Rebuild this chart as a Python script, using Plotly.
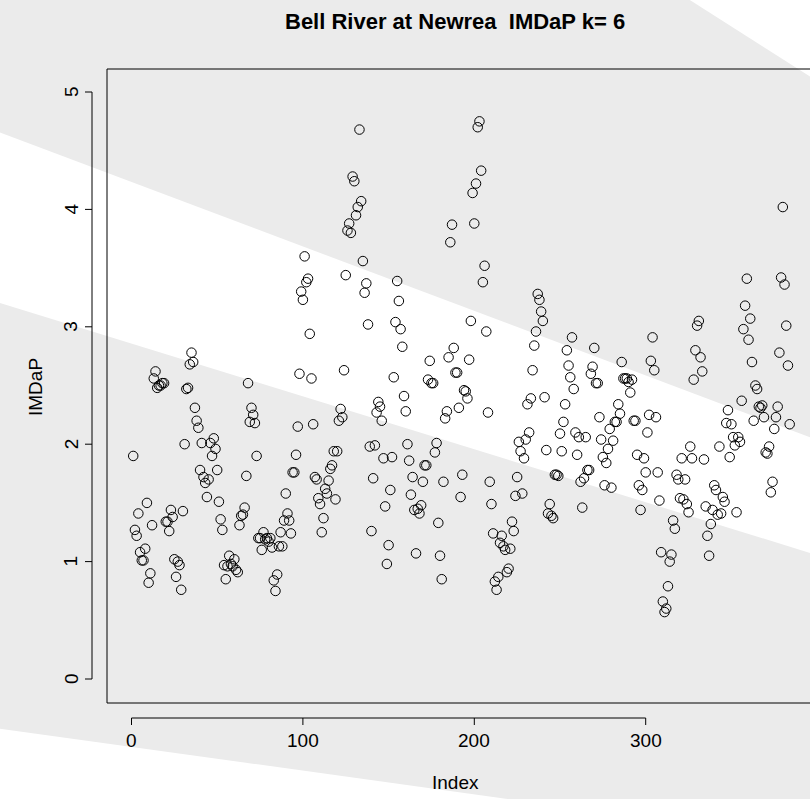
import plotly.graph_objects as go

# ---- data ----
imdap = [
    1.90,1.27,1.22,1.41,1.08,1.01,1.01,1.11,1.50,0.82,
    0.90,1.31,2.56,2.62,2.48,2.50,2.50,2.52,2.52,1.34,1.34,
    1.26,1.44,1.38,1.02,0.87,1.00,0.97,0.76,1.43,2.00,
    2.47,2.48,2.68,2.78,2.70,2.31,2.20,2.14,1.78,2.01,
    1.72,1.67,1.55,1.70,2.01,1.90,2.05,1.96,1.78,1.51,
    1.36,1.27,0.97,0.85,0.96,1.05,0.98,0.96,1.02,0.93,0.91,
    1.31,1.39,1.40,1.46,1.73,2.52,2.19,2.31,2.25,2.18,
    1.90,1.20,1.20,1.10,1.25,1.19,1.20,1.17,1.20,1.12,0.84,
    0.75,0.89,1.13,1.25,1.13,1.35,1.58,1.41,1.35,1.24,
    1.76,1.76,1.91,2.15,2.60,3.30,3.23,3.60,3.38,3.41,
    2.94,2.56,2.17,1.72,1.70,1.54,1.49,1.25,1.37,1.62,
    1.58,1.69,1.79,1.82,1.94,1.53,1.94,2.20,2.30,2.23,
    2.63,3.44,3.82,3.88,3.80,4.28,4.24,3.95,4.02,4.68,
    4.07,3.56,3.29,3.37,3.02,1.98,1.26,1.71,1.99,2.27,
    2.36,2.32,2.20,1.88,1.47,0.98,1.14,1.61,1.89,2.57,
    3.04,3.39,3.22,2.98,2.83,2.41,2.28,2.00,1.86,1.57,
    1.72,1.44,1.07,1.45,1.41,1.48,1.68,1.82,1.82,2.55,2.71,
    2.52,2.52,1.93,2.01,1.33,1.05,0.85,1.68,2.22,2.28,
    2.74,3.72,3.87,2.82,2.61,2.61,2.31,1.55,1.74,2.46,
    2.45,2.39,2.72,3.05,4.14,3.88,4.22,4.70,4.75,4.33,
    3.38,
    3.52,2.96,2.27,1.68,1.49,1.24,0.83,0.76,0.87,1.16,
    1.22,1.13,1.10,0.91,0.94,1.11,1.34,1.26,1.56,1.72,2.02,
    1.94,1.58,1.88,2.04,2.34,2.10,2.39,2.63,2.84,2.96,
    3.28,3.23,3.13,3.05,2.40,1.95,1.41,1.49,1.39,1.37,
    1.74,1.74,1.73,2.09,1.94,2.19,2.34,2.80,2.67,2.57,
    2.91,2.47,2.10,1.91,2.06,1.68,1.46,1.71,2.06,1.78,
    1.78,2.60,2.66,2.82,2.52,2.52,2.23,2.04,1.89,1.65,
    1.84,1.96,2.13,1.63,2.03,2.19,2.19,2.34,2.26,2.70,
    2.56,2.56,2.56,2.53,2.44,2.55,2.20,2.20,1.91,1.65,
    1.44,1.61,1.88,1.76,2.10,2.25,2.71,2.91,2.63,2.23,
    1.76,
    1.52,1.08,0.66,0.57,0.60,0.79,1.00,1.06,1.35,1.28,
    1.74,1.70,1.54,1.88,1.53,1.70,1.49,1.42,1.98,1.88,
    2.55,2.80,3.01,3.05,2.74,2.62,1.87,1.47,1.22,1.05,
    1.32,1.44,1.65,1.61,1.40,1.98,1.41,1.55,1.51,2.18,
    2.29,1.89,2.17,2.06,1.99,1.42,2.06,2.02,2.37,2.98,
    3.18,3.41,2.89,3.07,2.70,2.20,2.50,2.47,2.32,2.31,
    2.33,2.23,1.93,1.92,1.98,1.59,1.68,2.13,2.23,2.32,
    2.78,3.42,4.02,3.36,3.01,2.67,2.17,
]
index = list(range(1, len(imdap) + 1))

x_ticks = [0, 100, 200, 300]
y_ticks = [0, 1, 2, 3, 4, 5]
title_text = "<b>Bell River at Newrea\u00a0\u00a0IMDaP k= 6</b>"
x_title = "Index"
y_title = "IMDaP"

# ---- geometry (pixels of the 810x799 page) ----
W, H = 810, 799
L, R, T, B = 107, 810, 69, 703          # plot area in pixels
px0, px_per = 131.5, 1.714               # x pixel of index 0, pixels per index
py0, py_per = 679.0, 117.4               # y pixel of value 0, pixels per unit

def xv(px):
    return (px - px0) / px_per

def yv(py):
    return (py0 - py) / py_per

def xp(px):
    return (px - L) / (R - L)

def yp(py):
    return (B - py) / (B - T)

def path(points):
    s = "M " + " L ".join(f"{xp(a):.5f},{yp(b):.5f}" for a, b in points)
    return s + " Z"

gray = "rgb(235,235,235)"
shapes = [
    dict(type="path", xref="paper", yref="paper", layer="below",
         path=path([(-5, -5), (682, -5), (820, 83), (820, 441), (-5, 130.6)]),
         fillcolor=gray, line=dict(width=0)),
    dict(type="path", xref="paper", yref="paper", layer="below",
         path=path([(-5, 301.4), (820, 556), (820, 810), (587, 810), (-5, 728)]),
         fillcolor=gray, line=dict(width=0)),
]

line_col = "black"
# box: left, top, bottom (right edge is beyond the page)
shapes += [
    dict(type="line", xref="paper", yref="paper", x0=0, x1=0, y0=0, y1=1,
         line=dict(color=line_col, width=1)),
    dict(type="line", xref="paper", yref="paper", x0=0, x1=1.02, y0=1, y1=1,
         line=dict(color=line_col, width=1)),
    dict(type="line", xref="paper", yref="paper", x0=0, x1=1.02, y0=0, y1=0,
         line=dict(color=line_col, width=1)),
]
# axes (R style, offset from the box)
ax_y_px = 718     # x-axis line pixel row
ay_x_px = 92      # y-axis line pixel column
shapes.append(dict(type="line", xref="x", yref="paper", x0=x_ticks[0], x1=x_ticks[-1],
                   y0=yp(ax_y_px), y1=yp(ax_y_px), line=dict(color=line_col, width=1)))
for t in x_ticks:
    shapes.append(dict(type="line", xref="x", yref="paper", x0=t, x1=t,
                       y0=yp(ax_y_px), y1=yp(ax_y_px + 7), line=dict(color=line_col, width=1)))
shapes.append(dict(type="line", xref="paper", yref="y", x0=xp(ay_x_px), x1=xp(ay_x_px),
                   y0=y_ticks[0], y1=y_ticks[-1], line=dict(color=line_col, width=1)))
for t in y_ticks:
    shapes.append(dict(type="line", xref="paper", yref="y", x0=xp(ay_x_px), x1=xp(ay_x_px - 7),
                       y0=t, y1=t, line=dict(color=line_col, width=1)))

font = "Liberation Sans, Arial, sans-serif"
fs = 19
annotations = []
for t in x_ticks:
    annotations.append(dict(x=t, y=yp(740), xref="x", yref="paper", text=str(t),
                            showarrow=False, font=dict(family=font, size=fs, color="black"),
                            xanchor="center", yanchor="middle"))
for t in y_ticks:
    annotations.append(dict(x=xp(71), y=t, xref="paper", yref="y", text=str(t), textangle=-90,
                            showarrow=False, font=dict(family=font, size=fs, color="black"),
                            xanchor="center", yanchor="middle"))
annotations.append(dict(x=xp(455), y=yp(782), xref="paper", yref="paper", text=x_title,
                        showarrow=False, font=dict(family=font, size=fs, color="black"),
                        xanchor="center", yanchor="middle"))
annotations.append(dict(x=xp(35), y=yp(387), xref="paper", yref="paper", text=y_title,
                        textangle=-90, showarrow=False, font=dict(family=font, size=fs, color="black"),
                        xanchor="center", yanchor="middle"))
annotations.append(dict(x=xp(455), y=yp(21), xref="paper", yref="paper", text=title_text,
                        showarrow=False, font=dict(family=font, size=22, color="black"),
                        xanchor="center", yanchor="middle"))

fig = go.Figure()
fig.add_trace(go.Scatter(x=index, y=imdap, mode="markers",
                         marker=dict(symbol="circle-open", size=9.5, color="black",
                                     line=dict(width=1, color="black")),
                         hoverinfo="x+y"))
fig.update_layout(
    width=W, height=H,
    margin=dict(l=L, r=W - R, t=T, b=H - B, pad=0),
    paper_bgcolor="white", plot_bgcolor="rgba(0,0,0,0)",
    showlegend=False,
    xaxis=dict(range=[xv(L), xv(R)], showgrid=False, zeroline=False, showline=False,
               showticklabels=False, ticks=""),
    yaxis=dict(range=[yv(B), yv(T)], showgrid=False, zeroline=False, showline=False,
               showticklabels=False, ticks=""),
    shapes=shapes, annotations=annotations,
)
fig.write_html("out.html",
               config={"displayModeBar": False},
               post_script="document.body.style.margin='0';document.body.style.overflow='hidden';")
